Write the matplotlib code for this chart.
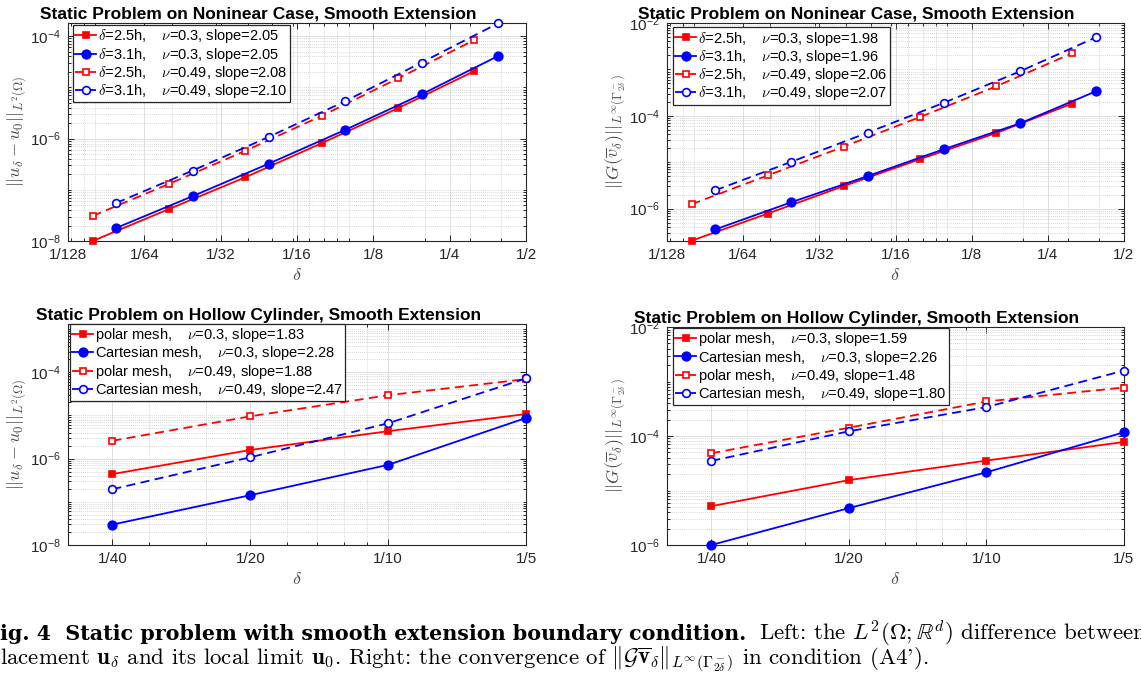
import matplotlib
matplotlib.use("Agg")
import matplotlib.pyplot as plt
import numpy as np
from matplotlib.ticker import FixedLocator, FixedFormatter, LogLocator, NullFormatter

plt.rcParams['font.family'] = ['Liberation Sans', 'DejaVu Sans']
plt.rcParams['mathtext.fontset'] = 'cm'

# nonlinear case: delta = 2.5h and 3.1h, h = 1/256 ... 1/8
delta_25 = [0.009765625, 0.01953125, 0.0390625, 0.078125, 0.15625, 0.3125]
delta_31 = [0.012109375, 0.02421875, 0.0484375, 0.096875, 0.19375, 0.3875]

l2_25_nu03 = [1.0e-8, 4.2e-8, 1.75e-7, 8.1e-7, 3.9e-6, 2.07e-5]
l2_31_nu03 = [1.8e-8, 7.5e-8, 3.24e-7, 1.48e-6, 7.3e-6, 4.07e-5]
l2_25_nu049 = [3.08e-8, 1.3e-7, 5.74e-7, 2.77e-6, 1.49e-5, 8.36e-5]
l2_31_nu049 = [5.53e-8, 2.37e-7, 1.08e-6, 5.37e-6, 3.05e-5, 1.77e-4]

g_25_nu03 = [2.03e-7, 7.8e-7, 3.06e-6, 1.16e-5, 4.25e-5, 1.84e-4]
g_31_nu03 = [3.55e-7, 1.37e-6, 5.0e-6, 1.9e-5, 6.85e-5, 3.38e-4]
g_25_nu049 = [1.24e-6, 5.18e-6, 2.17e-5, 9.4e-5, 4.32e-4, 2.24e-3]
g_31_nu049 = [2.47e-6, 1.02e-5, 4.32e-5, 1.9e-4, 9.05e-4, 4.93e-3]

# hollow cylinder
delta_cyl = [0.025, 0.05, 0.1, 0.2]
cyl_l2_polar_nu03 = [4.38e-7, 1.58e-6, 4.3e-6, 1.07e-5]
cyl_l2_cart_nu03 = [2.97e-8, 1.42e-7, 7.16e-7, 8.7e-6]
cyl_l2_polar_nu049 = [2.58e-6, 9.5e-6, 2.92e-5, 6.9e-5]
cyl_l2_cart_nu049 = [1.95e-7, 1.07e-6, 6.56e-6, 7.16e-5]

cyl_g_polar_nu03 = [5.16e-6, 1.55e-5, 3.54e-5, 7.77e-5]
cyl_g_cart_nu03 = [1.0e-6, 4.75e-6, 2.16e-5, 1.17e-4]
cyl_g_polar_nu049 = [4.82e-5, 1.42e-4, 4.3e-4, 7.76e-4]
cyl_g_cart_nu049 = [3.49e-5, 1.22e-4, 3.39e-4, 1.59e-3]

labels_tl = [r'$\delta$=2.5h,    $\nu$=0.3, slope=2.05', r'$\delta$=3.1h,    $\nu$=0.3, slope=2.05',
             r'$\delta$=2.5h,    $\nu$=0.49, slope=2.08', r'$\delta$=3.1h,    $\nu$=0.49, slope=2.10']
labels_tr = [r'$\delta$=2.5h,    $\nu$=0.3, slope=1.98', r'$\delta$=3.1h,    $\nu$=0.3, slope=1.96',
             r'$\delta$=2.5h,    $\nu$=0.49, slope=2.06', r'$\delta$=3.1h,    $\nu$=0.49, slope=2.07']
labels_bl = [r'polar mesh,    $\nu$=0.3, slope=1.83', r'Cartesian mesh,    $\nu$=0.3, slope=2.28',
             r'polar mesh,    $\nu$=0.49, slope=1.88', r'Cartesian mesh,    $\nu$=0.49, slope=2.47']
labels_br = [r'polar mesh,    $\nu$=0.3, slope=1.59', r'Cartesian mesh,    $\nu$=0.3, slope=2.26',
             r'polar mesh,    $\nu$=0.49, slope=1.48', r'Cartesian mesh,    $\nu$=0.49, slope=1.80']

x_ticks_top = [1/128, 1/64, 1/32, 1/16, 1/8, 1/4, 1/2]
x_labels_top = ['1/128', '1/64', '1/32', '1/16', '1/8', '1/4', '1/2']
x_ticks_bot = [1/40, 1/20, 1/10, 1/5]
x_labels_bot = ['1/40', '1/20', '1/10', '1/5']

title_nl = 'Static Problem on Noninear Case, Smooth Extension'
title_cyl = 'Static Problem on Hollow Cylinder, Smooth Extension'
ylab_l2 = r'$||u_\delta - u_0||_{L^2(\Omega)}$'
ylab_g = r'$||G(\overline{v}_\delta)||_{L^\infty(\Gamma^-_{2\delta})}$'

RED = '#ff0000'
BLUE = '#0000ff'
TXT = '#262626'
LAB = '#4d4d4d'

styles = [
    dict(color=RED, ls='-', marker='s', ms=4.8, mfc=RED),
    dict(color=BLUE, ls='-', marker='o', ms=6.2, mfc=BLUE),
    dict(color=RED, ls=(0, (5, 3)), marker='s', ms=4.4, mfc='white'),
    dict(color=BLUE, ls=(0, (5, 3)), marker='o', ms=5.6, mfc='white'),
]

fig = plt.figure(figsize=(11.41, 6.87), dpi=100)


def make_panel(rect, xs, ys, labels, xlim, ylim, xticks, xlabels, yticks, title, ylabel, leg_anchor):
    ax = fig.add_axes(rect)
    ax.set_xscale('log')
    ax.set_yscale('log')
    for x, y, lab, st in zip(xs, ys, labels, styles):
        ax.plot(x, y, lw=1.3, mew=1.2, mec=st['color'], label=lab, clip_on=False, zorder=3,
                color=st['color'], linestyle=st['ls'], marker=st['marker'], ms=st['ms'], mfc=st['mfc'])
    ax.set_xlim(*xlim)
    ax.set_ylim(*ylim)
    ax.xaxis.set_major_locator(FixedLocator(xticks))
    ax.xaxis.set_major_formatter(FixedFormatter(xlabels))
    ax.xaxis.set_minor_locator(LogLocator(base=10, subs=np.arange(1, 10)))
    ax.xaxis.set_minor_formatter(NullFormatter())
    ax.yaxis.set_major_locator(FixedLocator(yticks))
    ax.yaxis.set_major_formatter(FixedFormatter([r'$\mathdefault{10^{%d}}$' % int(round(np.log10(t))) for t in yticks]))
    ax.yaxis.set_minor_locator(LogLocator(base=10, subs=np.arange(1, 10), numticks=50))
    ax.yaxis.set_minor_formatter(NullFormatter())
    ax.tick_params(which='both', direction='in', top=True, right=True, colors=TXT, labelsize=11, width=0.7)
    ax.tick_params(which='major', length=4.5, pad=5)
    ax.tick_params(which='minor', length=2.5)
    ax.grid(which='major', color='#dedede', lw=0.7, ls='-')
    ax.grid(which='minor', color='#c8c8c8', lw=0.6, ls=(0, (1, 1.5)))
    ax.set_axisbelow(True)
    for sp in ax.spines.values():
        sp.set_color(TXT)
        sp.set_linewidth(0.8)
    ax.set_title(title, fontsize=12.5, fontweight='bold', x=0.415, pad=3, color='black')
    ax.set_xlabel(r'$\delta$', fontsize=13, color=LAB, labelpad=4)
    ax.set_ylabel(ylabel, fontsize=13, color=LAB, labelpad=1)
    leg = ax.legend(loc='upper left', bbox_to_anchor=leg_anchor, fontsize=10.5, handlelength=1.45,
                    handletextpad=0.12, labelspacing=0.02, borderpad=0.15, borderaxespad=0,
                    fancybox=False, framealpha=1, edgecolor='#262626')
    leg.get_frame().set_linewidth(0.9)
    leg.set_zorder(5)
    return ax


make_panel([0.0596, 0.6492, 0.4014, 0.3173],
           [delta_25, delta_31, delta_25, delta_31],
           [l2_25_nu03, l2_31_nu03, l2_25_nu049, l2_31_nu049],
           labels_tl, (1/128, 1/2), (1e-8, 1.8e-4), x_ticks_top, x_labels_top,
           [1e-8, 1e-6, 1e-4], title_nl, ylab_l2, (0.011, 0.99))

make_panel([0.5846, 0.6492, 0.4005, 0.3173],
           [delta_25, delta_31, delta_25, delta_31],
           [g_25_nu03, g_31_nu03, g_25_nu049, g_31_nu049],
           labels_tr, (1/128, 1/2), (2.0e-7, 1e-2), x_ticks_top, x_labels_top,
           [1e-6, 1e-4, 1e-2], title_nl, ylab_g, (0.013, 0.98))

make_panel([0.0596, 0.2067, 0.4014, 0.3217],
           [delta_cyl] * 4,
           [cyl_l2_polar_nu03, cyl_l2_cart_nu03, cyl_l2_polar_nu049, cyl_l2_cart_nu049],
           labels_bl, (0.02, 0.2), (1e-8, 1.3e-3), x_ticks_bot, x_labels_bot,
           [1e-8, 1e-6, 1e-4], title_cyl, ylab_l2, (0.004, 1.0))

make_panel([0.5846, 0.2067, 0.4005, 0.3173],
           [delta_cyl] * 4,
           [cyl_g_polar_nu03, cyl_g_cart_nu03, cyl_g_polar_nu049, cyl_g_cart_nu049],
           labels_br, (0.02, 0.2), (1e-6, 1e-2), x_ticks_bot, x_labels_bot,
           [1e-6, 1e-4, 1e-2], title_cyl, ylab_g, (0.013, 0.995))

# caption (cropped at the page edges like the original)
cap1_bold = 'ig. 4  Static problem with smooth extension boundary condition.'
cap1_rest = r"Left: the $L^2(\Omega;\mathbb{R}^d)$ difference between"
cap2 = (r"lacement $\mathbf{u}_\delta$ and its local limit $\mathbf{u}_0$. Right: the convergence of "
        r"$\|\mathcal{G}\overline{\mathbf{v}}_\delta\|_{L^\infty(\Gamma^-_{2\delta})}$ in condition (A4').")
fig.text(0.0, 1 - 640 / 687, cap1_bold, fontsize=14.9, fontfamily='DejaVu Serif', fontweight='bold',
         va='baseline', ha='left')
fig.text(759 / 1141, 1 - 640 / 687, cap1_rest, fontsize=16.5, fontfamily='cmr10', va='baseline', ha='left')
fig.text(0.0, 1 - 664 / 687, cap2, fontsize=16.5, fontfamily='cmr10', va='baseline', ha='left')

fig.savefig('out.png', dpi=100)
plt.close(fig)
